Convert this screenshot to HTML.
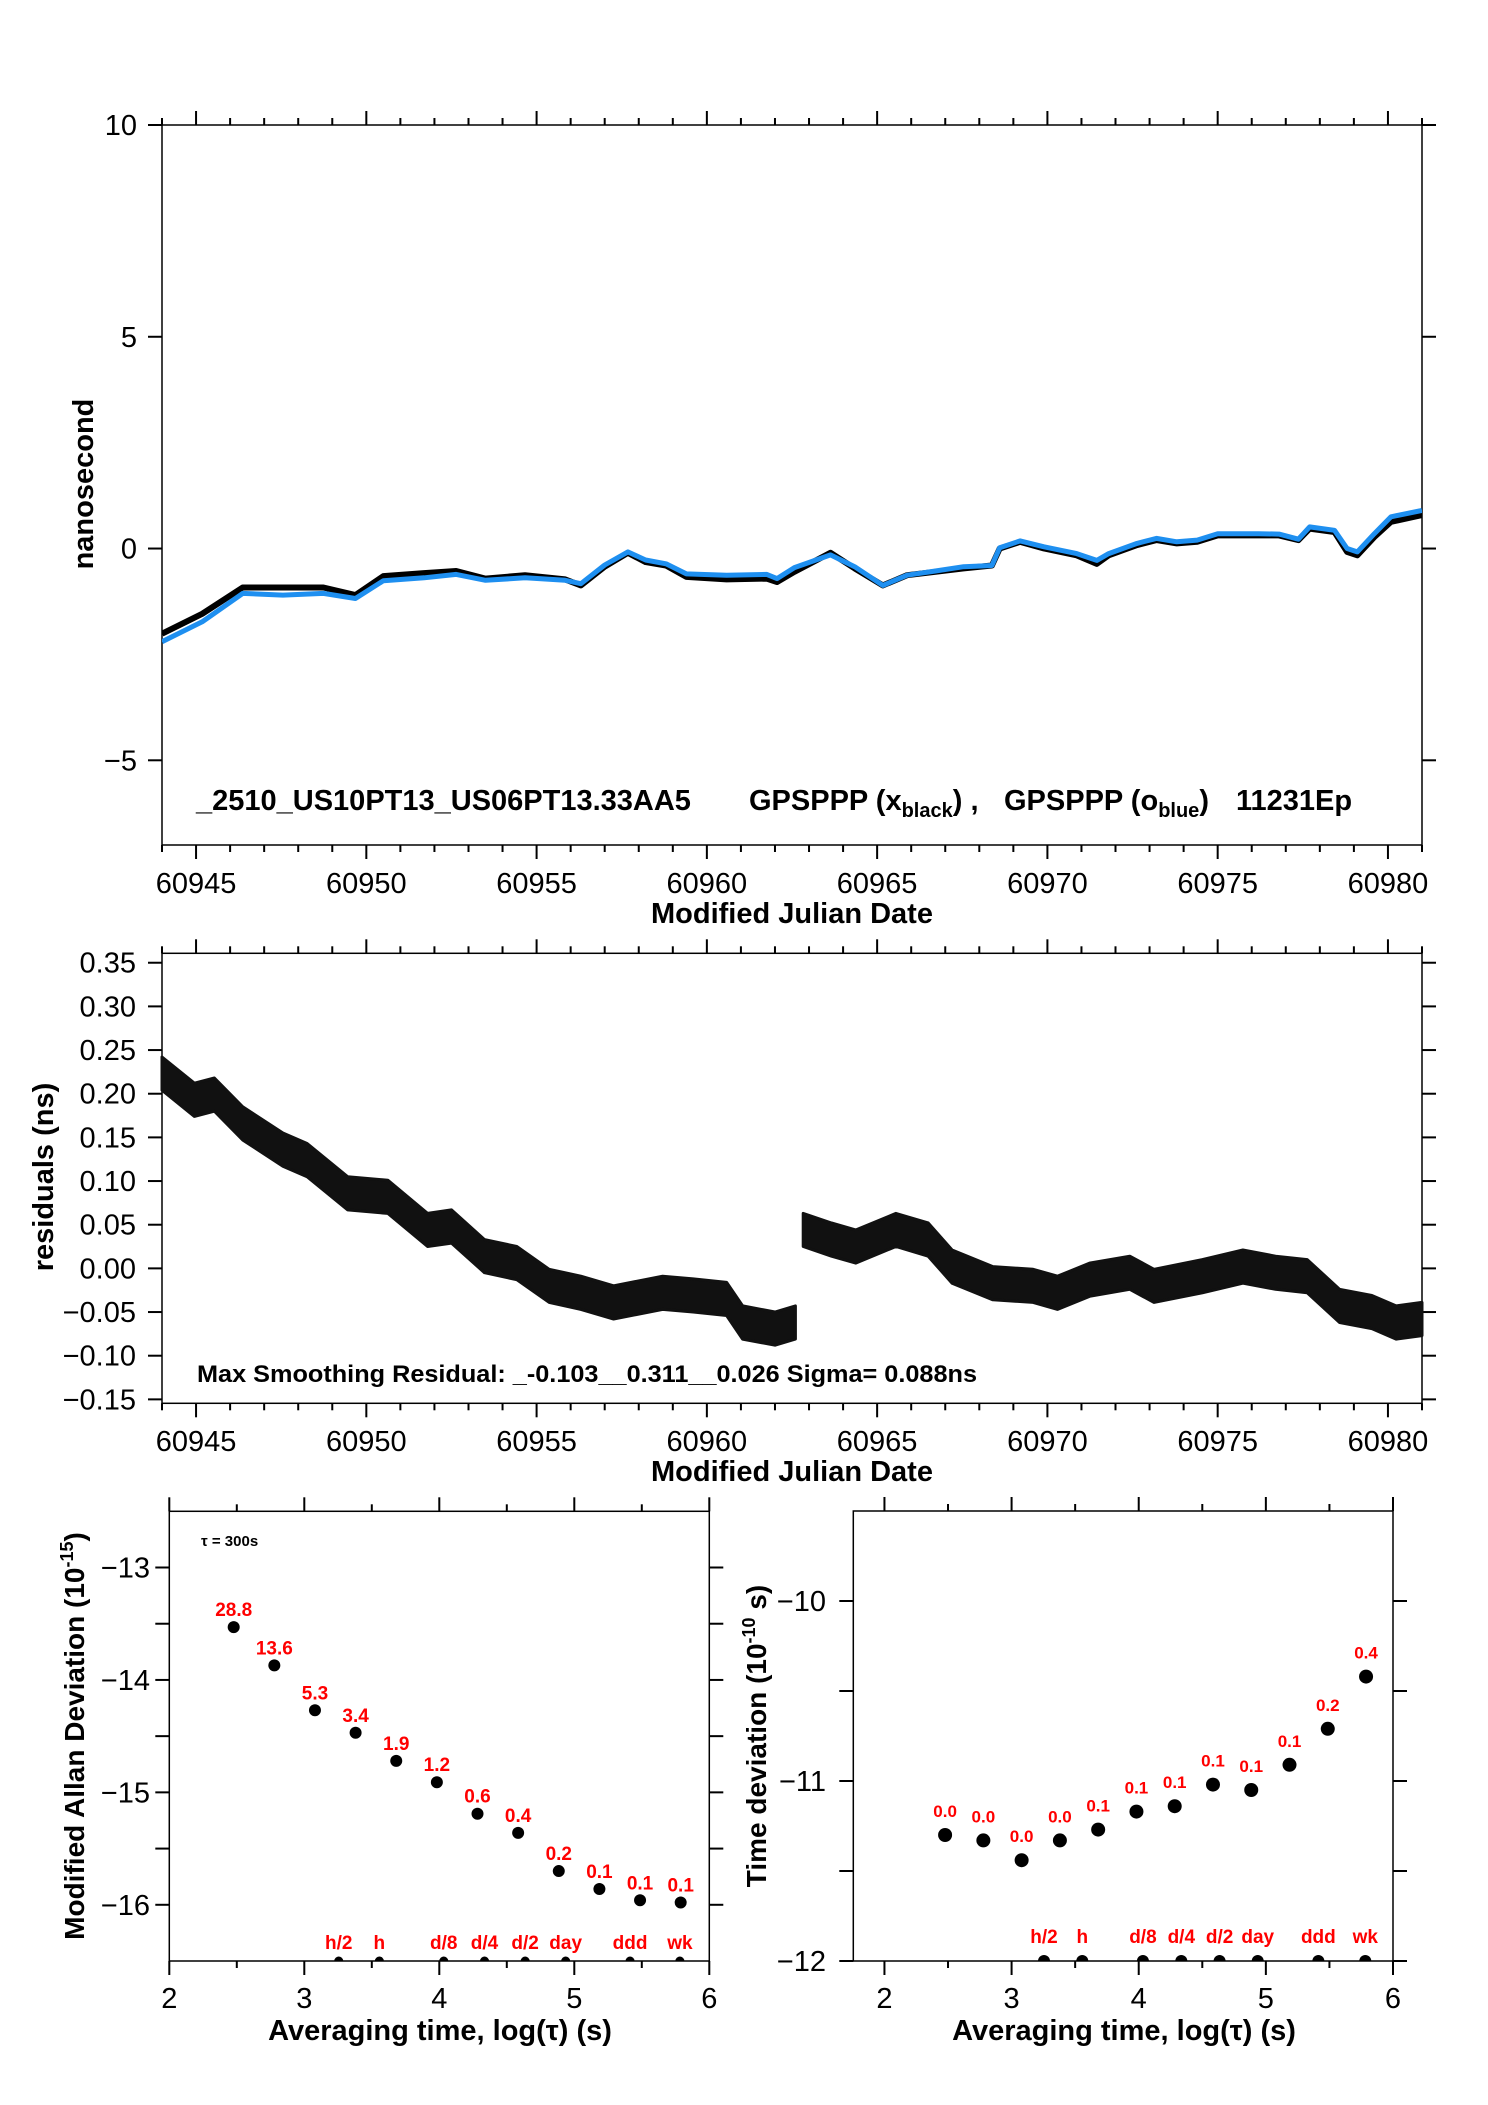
<!DOCTYPE html>
<html><head><meta charset="utf-8"><style>
html,body{margin:0;padding:0;background:#fff;}
svg{display:block;font-family:"Liberation Sans",Arial,sans-serif;}
</style></head><body>
<svg id="fig" width="1488" height="2105" viewBox="0 0 1488 2105" xmlns="http://www.w3.org/2000/svg"></svg>
<script>
// ---- Top chart data (MJD, ns) ----
const topDays = [60944.0,60945.18,60946.37,60947.55,60948.74,60949.68,60950.5,60951.7,60952.64,60953.5,60954.66,60955.84,60956.3,60957.0,60957.68,60958.2,60958.8,60959.4,60960.58,60961.76,60962.06,60962.57,60963.63,60964.34,60965.17,60965.88,60966.71,60967.54,60968.37,60968.6,60969.2,60969.9,60970.86,60971.45,60971.8,60972.63,60973.2,60973.8,60974.4,60975.0,60975.6,60976.2,60976.8,60977.37,60977.7,60978.43,60978.8,60979.1,60979.6,60980.09,60981.0];
const blackValues = [-2.01,-1.54,-0.92,-0.92,-0.92,-1.1,-0.65,-0.58,-0.53,-0.71,-0.63,-0.73,-0.87,-0.43,-0.1,-0.32,-0.4,-0.67,-0.73,-0.71,-0.79,-0.55,-0.1,-0.47,-0.87,-0.63,-0.55,-0.47,-0.4,0.0,0.16,0.0,-0.16,-0.36,-0.16,0.08,0.2,0.12,0.16,0.31,0.31,0.31,0.31,0.2,0.47,0.39,-0.08,-0.16,0.27,0.63,0.79];
const blueValues = [-2.2,-1.73,-1.06,-1.1,-1.06,-1.18,-0.76,-0.69,-0.61,-0.75,-0.69,-0.75,-0.83,-0.39,-0.08,-0.27,-0.36,-0.6,-0.63,-0.61,-0.71,-0.45,-0.15,-0.43,-0.87,-0.63,-0.53,-0.43,-0.4,0.02,0.18,0.04,-0.12,-0.28,-0.12,0.12,0.24,0.16,0.2,0.35,0.35,0.35,0.34,0.22,0.51,0.43,0.0,-0.08,0.35,0.75,0.9];
const topYTicks = [10,5,0,-5];
const mjdTicks = [60945,60950,60955,60960,60965,60970,60975,60980];
// ---- Residual chart data ----
const resDays = [60944.0,60944.95,60945.54,60946.37,60947.55,60948.26,60949.45,60950.63,60951.8,60952.5,60953.47,60954.42,60955.37,60956.3,60957.26,60958.7,60959.6,60960.58,60961.05,60962.0,60962.6,60962.83,60963.66,60964.37,60965.55,60966.5,60967.2,60968.4,60969.58,60970.3,60971.24,60972.42,60973.13,60974.55,60975.74,60976.7,60977.63,60978.58,60979.53,60980.24,60981.0];
const resValues = [0.223,0.193,0.199,0.166,0.136,0.124,0.086,0.082,0.044,0.048,0.014,0.006,-0.020,-0.028,-0.039,-0.028,-0.031,-0.035,-0.062,-0.069,-0.062,0.044,0.033,0.025,0.044,0.033,0.002,-0.017,-0.020,-0.028,-0.013,-0.005,-0.020,-0.009,0.002,-0.005,-0.009,-0.043,-0.050,-0.062,-0.058];
const resYTicks = [0.35,0.30,0.25,0.20,0.15,0.10,0.05,0.00,-0.05,-0.10,-0.15];
// ---- Allan deviation data ----
const logTau = [2.477,2.778,3.079,3.380,3.681,3.982,4.283,4.584,4.885,5.186,5.487,5.788];
const madevValues = [-13.53,-13.87,-14.27,-14.47,-14.72,-14.91,-15.19,-15.36,-15.70,-15.86,-15.96,-15.98];
const madevLabels = ["28.8","13.6","5.3","3.4","1.9","1.2","0.6","0.4","0.2","0.1","0.1","0.1"];
const tdevValues = [-11.30,-11.33,-11.44,-11.33,-11.27,-11.17,-11.14,-11.02,-11.05,-10.91,-10.71,-10.42];
const tdevLabels = ["0.0","0.0","0.0","0.0","0.1","0.1","0.1","0.1","0.1","0.1","0.2","0.4"];
const markerLog = [3.255,3.556,4.033,4.335,4.636,4.936,5.413,5.782];
const markerNames = ["h/2","h","d/8","d/4","d/2","day","ddd","wk"];

const NS="http://www.w3.org/2000/svg";
const svg=document.getElementById('fig');
function el(tag,attrs,parent,txt){const e=document.createElementNS(NS,tag);for(const k in attrs)e.setAttribute(k,attrs[k]);if(txt!==undefined)e.textContent=txt;(parent||svg).appendChild(e);return e;}
function lin(d0,d1,r0,r1){return v=>r0+(v-d0)*(r1-r0)/(d1-d0);}
const fmtNeg=s=>s.replace('-','\u2212');

// ===== Top plot =====
const tx=lin(60944,60981,162,1422), ty=lin(-7,10,845,125);
let g=el('g',{});  
let r=el('rect',{x:162,y:125,width:1260,height:720,fill:'none',stroke:'#000','stroke-width':1.5},g);
 
for(let d=60944;d<=60981;d++){const x=tx(d);const maj=d%5===0;const L=maj?14:7;
 el('line',{x1:x,y1:125,x2:x,y2:125-L,stroke:'#000','stroke-width':2},g);
 el('line',{x1:x,y1:845,x2:x,y2:845+L,stroke:'#000','stroke-width':2},g);}
mjdTicks.forEach(d=>{const t=el('text',{x:tx(d),y:893,'text-anchor':'middle','font-size':29},g,String(d));
  });
topYTicks.forEach(v=>{const y=ty(v);el('line',{x1:148,y1:y,x2:162,y2:y,stroke:'#000','stroke-width':2},g);el('line',{x1:1422,y1:y,x2:1436,y2:y,stroke:'#000','stroke-width':2},g);
 const t=el('text',{x:137,y:y+10,'text-anchor':'end','font-size':29},g,fmtNeg(String(v)));
  });
let cp=el('clipPath',{id:'ctop'},g); el('rect',{x:162,y:125,width:1260,height:720},cp);
const ptsB=topDays.map((d,i)=>tx(d).toFixed(1)+','+ty(blackValues[i]).toFixed(1)).join(' ');
const ptsU=topDays.map((d,i)=>tx(d).toFixed(1)+','+ty(blueValues[i]).toFixed(1)).join(' ');
let lb=el('polyline',{points:ptsB,fill:'none',stroke:'#000','stroke-width':6,'stroke-linejoin':'round','clip-path':'url(#ctop)'},g);
 
let lu=el('polyline',{points:ptsU,fill:'none',stroke:'#1e8ff0','stroke-width':5,'stroke-linejoin':'round','clip-path':'url(#ctop)'},g);
 
let ann=el('text',{x:196,y:810,'font-size':29,'font-weight':'bold'},g);
 
el('tspan',{},ann,'_2510_US10PT13_US06PT13.33AA5');
el('tspan',{x:749},ann,'GPSPPP (x');el('tspan',{dy:7,'font-size':20},ann,'black');el('tspan',{dy:-7},ann,') ,');
el('tspan',{x:1004},ann,'GPSPPP (o');el('tspan',{dy:7,'font-size':20},ann,'blue');el('tspan',{dy:-7},ann,')');
el('tspan',{x:1236},ann,'11231Ep');
let t1=el('text',{x:792,y:923,'text-anchor':'middle','font-size':29,'font-weight':'bold'},g,'Modified Julian Date');
 
let t2=el('text',{x:0,y:0,'text-anchor':'middle','font-size':29,'font-weight':'bold',transform:'translate(93,484) rotate(-90)'},g,'nanosecond');
 

// ===== Residuals plot =====
const rx=tx, ry=lin(-0.1545,0.3608,1403.3,953.3);
g=el('g',{});  
r=el('rect',{x:162,y:953.3,width:1260,height:450,fill:'none',stroke:'#000','stroke-width':1.5},g);
 
for(let d=60944;d<=60981;d++){const x=rx(d);const maj=d%5===0;const L=maj?14:7;
 el('line',{x1:x,y1:953.3,x2:x,y2:953.3-L,stroke:'#000','stroke-width':2},g);
 el('line',{x1:x,y1:1403.3,x2:x,y2:1403.3+L,stroke:'#000','stroke-width':2},g);}
mjdTicks.forEach(d=>{const t=el('text',{x:rx(d),y:1451,'text-anchor':'middle','font-size':29},g,String(d));
  });
resYTicks.forEach(v=>{const y=ry(v);el('line',{x1:148,y1:y,x2:162,y2:y,stroke:'#000','stroke-width':2},g);el('line',{x1:1422,y1:y,x2:1436,y2:y,stroke:'#000','stroke-width':2},g);
 const t=el('text',{x:136,y:y+10,'text-anchor':'end','font-size':29},g,fmtNeg(v.toFixed(2)));
  });
const hw=0.019;
let up=[],dn=[];
resDays.forEach((d,i)=>{if(i===21){return;}up.push(rx(d).toFixed(1)+','+ry(resValues[i]+hw).toFixed(1));});
resDays.forEach((d,i)=>{if(i===21){return;}dn.push(rx(d).toFixed(1)+','+ry(resValues[i]-hw).toFixed(1));});
// split into two segments at the jump (index 21)
function band(a,b){const U=[],D=[];for(let i=a;i<=b;i++){U.push(rx(resDays[i]).toFixed(1)+','+ry(resValues[i]+hw).toFixed(1));D.unshift(rx(resDays[i]).toFixed(1)+','+ry(resValues[i]-hw).toFixed(1));}return U.concat(D).join(' ');}
let b1=el('polygon',{points:band(0,20),fill:'#111',stroke:'#111','stroke-width':3,'stroke-linejoin':'round'},g);
 
let b2=el('polygon',{points:band(21,resDays.length-1),fill:'#111',stroke:'#111','stroke-width':3,'stroke-linejoin':'round'},g);
 
let a2=el('text',{x:197,y:1382,'font-size':24,'font-weight':'bold',textLength:780,lengthAdjust:'spacingAndGlyphs'},g,'Max Smoothing Residual: _-0.103__0.311__0.026  Sigma= 0.088ns');
 
let t3=el('text',{x:792,y:1481,'text-anchor':'middle','font-size':29,'font-weight':'bold'},g,'Modified Julian Date');
 
let t4=el('text',{x:0,y:0,'text-anchor':'middle','font-size':29,'font-weight':'bold',transform:'translate(53,1177) rotate(-90)'},g,'residuals (ns)');
 

// ===== Stability plots =====
function stabPlot(name,x0,x1,xl,xr,y0,y1,yb,yt,yTicks,yMinor,vals,labels,lblSize,lblOff,dotR,mkR,mkOff,ylabX,title,titleX,titleLen,supTxt,tail,xTitleX){
 const sx=lin(x0,x1,xl,xr), sy=lin(y0,y1,yb,yt);
 const G=el('g',{});  
 const fr=el('rect',{x:xl,y:yt,width:xr-xl,height:yb-yt,fill:'none',stroke:'#000','stroke-width':1.5},G);
  
 for(let v=2;v<=6.001;v+=0.5){const x=sx(v);const maj=Math.abs(v-Math.round(v))<1e-6;const L=maj?14:7;
  el('line',{x1:x,y1:yt,x2:x,y2:yt-L,stroke:'#000','stroke-width':2},G);
  el('line',{x1:x,y1:yb,x2:x,y2:yb+L,stroke:'#000','stroke-width':2},G);
  if(maj){const t=el('text',{x:x,y:2008,'text-anchor':'middle','font-size':29},G,String(v));}}
 yMinor.forEach(v=>{const y=sy(v);el('line',{x1:xl-14,y1:y,x2:xl,y2:y,stroke:'#000','stroke-width':2},G);el('line',{x1:xr,y1:y,x2:xr+14,y2:y,stroke:'#000','stroke-width':2},G);});
 yTicks.forEach(v=>{const y=sy(v);el('line',{x1:xl-14,y1:y,x2:xl,y2:y,stroke:'#000','stroke-width':2},G);el('line',{x1:xr,y1:y,x2:xr+14,y2:y,stroke:'#000','stroke-width':2},G);
  const t=el('text',{x:ylabX,y:y+10,'text-anchor':'end','font-size':29},G,fmtNeg(String(v)));});
 const cid='clip'+name; const c=el('clipPath',{id:cid},G); el('rect',{x:xl,y:yt,width:xr-xl,height:yb-yt},c);
 logTau.forEach((lt,i)=>{const cx=sx(lt),cy=sy(vals[i]);
  const d=el('circle',{cx:cx,cy:cy,r:dotR,fill:'#000'},G);
  const t=el('text',{x:cx,y:cy-lblOff,'text-anchor':'middle','font-size':lblSize,'font-weight':'bold',fill:'#ff0000'},G,labels[i]);});
 markerLog.forEach((lt,i)=>{const cx=sx(lt);
  const d=el('circle',{cx:cx,cy:yb,r:mkR,fill:'#000','clip-path':'url(#'+cid+')'},G);
  const t=el('text',{x:cx,y:yb-mkOff,'text-anchor':'middle','font-size':19,'font-weight':'bold',fill:'#ff0000'},G,markerNames[i]);});
 const xt=el('text',{x:xTitleX,y:2040,'text-anchor':'middle','font-size':29,'font-weight':'bold'},G,'Averaging time, log(\u03c4) (s)');
  
 const yt2=el('text',{x:0,y:0,'text-anchor':'middle','font-size':28,'font-weight':'bold',transform:'translate('+titleX+',1736) rotate(-90)'},G);
  
 el('tspan',{},yt2,title);el('tspan',{dy:-11,'font-size':18},yt2,supTxt);el('tspan',{dy:11},yt2,tail);
 return G;}
stabPlot('allan-deviation-chart',2,6,169.3,709.3,-16.5,-12.5,1961,1511.3,[-13,-14,-15,-16],[-13.5,-14.5,-15.5],madevValues,madevLabels,19,11,6,4.5,12,150,'Modified Allan Deviation (10',84,436,'-15',')',440);
stabPlot('time-deviation-chart',1.755,6,853.3,1393,-12,-9.5,1961,1511,[-10,-11,-12],[-10.5,-11.5],tdevValues,tdevLabels,17,18,7,6,18,826,'Time deviation (10',766,329,'-10',' s)',1124);
let tau=el('text',{x:201,y:1546,'font-size':15,'font-weight':'bold'},null,'\u03c4 = 300s');
 
</script>
</body></html>
